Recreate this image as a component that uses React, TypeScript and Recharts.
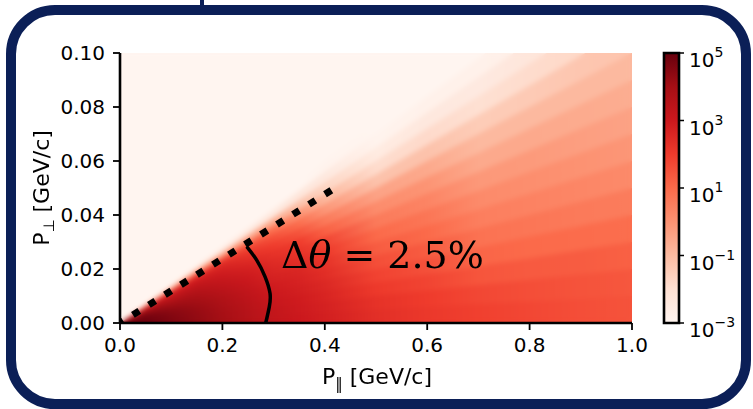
import React from 'react';
import { ComposedChart, Area, Line, Bar, XAxis, YAxis, CartesianGrid } from 'recharts';

// ---- data ----
// momentum stops (P_parallel, GeV/c) at which the colour of every angular band is read
const pLStops = [0, 0.05, 0.1, 0.15, 0.2, 0.25, 0.3, 0.35, 0.4, 0.5, 0.6, 0.7, 0.8, 0.9, 1.0];
// upper edge of each angular band (P_perp / P_parallel)
const bandEdges = [0.01, 0.02, 0.03, 0.04, 0.05, 0.06, 0.07, 0.08, 0.09, 0.1, 0.11, 0.12, 0.13, 0.14, 0.15];
// log10(counts) of each band, read at pLStops
const band0 = [4.9, 4.9, 4.6, 4.3, 4.0, 3.6, 3.25, 3.0, 2.8, 2.35, 2.1, 1.9, 1.75, 1.6, 1.5];
const band1 = [4.9, 4.9, 4.6, 4.3, 3.95, 3.55, 3.2, 2.95, 2.75, 2.25, 2.0, 1.75, 1.6, 1.5, 1.4];
const band2 = [4.9, 4.9, 4.55, 4.25, 3.9, 3.5, 3.1, 2.9, 2.65, 2.05, 1.8, 1.45, 1.35, 1.3, 1.2];
const band3 = [4.85, 4.85, 4.5, 4.2, 3.8, 3.4, 3.0, 2.8, 2.55, 1.85, 1.55, 1.1, 1.0, 0.95, 0.9];
const band4 = [4.75, 4.75, 4.4, 4.1, 3.7, 3.3, 2.9, 2.7, 2.4, 1.6, 1.3, 0.8, 0.7, 0.6, 0.55];
const band5 = [4.65, 4.65, 4.25, 4.0, 3.55, 3.15, 2.75, 2.6, 2.25, 1.3, 1.0, 0.5, 0.4, 0.3, 0.2];
const band6 = [4.5, 4.5, 4.1, 3.85, 3.4, 3.0, 2.6, 2.4, 2.05, 1.0, 0.7, 0.2, 0.1, 0.0, -0.1];
const band7 = [4.3, 4.3, 3.9, 3.65, 3.25, 2.85, 2.45, 2.2, 1.8, 0.6, 0.35, -0.15, -0.2, -0.3, -0.4];
const band8 = [4.0, 4.0, 3.6, 3.45, 3.05, 2.65, 2.25, 2.0, 1.2, 0.15, -0.05, -0.55, -0.55, -0.6, -0.65];
const band9 = [3.7, 3.7, 3.3, 3.2, 2.85, 2.4, 2.0, 1.5, 0.6, -0.4, -0.55, -0.95, -0.95, -0.95, -0.95];
const band10 = [3.3, 3.3, 3.0, 2.9, 2.6, 2.1, 1.6, 0.9, -0.1, -1.2, -1.2, -1.45, -1.4, -1.3, -1.25];
const band11 = [2.7, 2.7, 2.5, 2.4, 2.1, 1.5, 0.9, 0.0, -0.9, -1.9, -1.85, -2.0, -1.9, -1.8, -1.6];
const band12 = [0.5, 0.5, 0.2, 0.3, -0.2, -0.4, -0.6, -1.2, -1.7, -2.5, -2.4, -2.45, -2.3, -2.2, -2.0];
const band13 = [-2.0, -2.0, -2.2, -2.3, -2.4, -2.4, -2.4, -2.3, -2.4, -2.9, -2.8, -2.8, -2.7, -2.6, -2.4];
const band14 = [-3, -3, -3, -3, -3, -3, -3, -3, -2.9, -3, -3, -3, -3, -3, -2.8];
const bandValues = [band0, band1, band2, band3, band4, band5, band6, band7, band8, band9, band10, band11, band12, band13, band14];

// dashed acceptance edge and the angle arc (data coordinates)
const edgeLine = [{ pL: 0, pT: 0 }, { pL: 0.42, pT: 0.05 }];
const arcLine = [
  { pL: 0.2475, pT: 0.0283 },
  { pL: 0.267, pT: 0.0233 },
  { pL: 0.2832, pT: 0.0172 },
  { pL: 0.293, pT: 0.011 },
  { pL: 0.2916, pT: 0.006 },
  { pL: 0.2846, pT: 0.0 },
];

const xTicks = [0, 0.2, 0.4, 0.6, 0.8, 1.0];
const yTicks = [0, 0.02, 0.04, 0.06, 0.08, 0.1];
const cbTicks = [-3, -1, 1, 3, 5];
const cbRange = [-3, 5];
const cbData = [{ name: 'cb', range: [-3, 5] }];

// ---- colour map (matplotlib "Reds", log scale 1e-3 .. 1e5) ----
const REDS = ['#fff5f0', '#fee0d2', '#fcbba1', '#fc9272', '#fb6a4a', '#ef3b2c', '#cb181d', '#a50f15', '#67000d'];
const hex = (h: string) => [parseInt(h.slice(1, 3), 16), parseInt(h.slice(3, 5), 16), parseInt(h.slice(5, 7), 16)];
function cmap(v: number): string {
  let t = (v - cbRange[0]) / (cbRange[1] - cbRange[0]);
  t = Math.max(0, Math.min(1, t));
  const p = t * 8;
  const i = Math.min(7, Math.floor(p));
  const f = p - i;
  const a = hex(REDS[i]);
  const b = hex(REDS[i + 1]);
  const c = a.map((x, j) => Math.round(x + (b[j] - x) * f));
  return `rgb(${c[0]},${c[1]},${c[2]})`;
}

const heatData = pLStops.map((pL) => {
  const row: Record<string, number> = { pL };
  bandEdges.forEach((r, k) => {
    row['e' + k] = r * pL;
  });
  return row;
});

const FONT = 'DejaVu Sans';
const NAVY = '#0b1f57';
const W = 753;
const H = 409;
const PLOT = { top: 53, left: 120, right: 121, bottom: 86 };

const CbTick = (props: any) => {
  const { x, y, payload } = props;
  const e = payload.value;
  const s = e < 0 ? '\u2212' + Math.abs(e) : String(e);
  return (
    <text x={x} y={y + 14} fontFamily={FONT} fontSize={20} fill="#000" textAnchor="start">
      10
      <tspan dy={-10} fontSize={14}>{s}</tspan>
    </text>
  );
};

function HeatChart() {
  return (
    <ComposedChart width={W} height={H} data={heatData} margin={PLOT}>
      <CartesianGrid fill={cmap(-3)} stroke="none" horizontal={false} vertical={false} />
      <XAxis dataKey="pL" type="number" domain={[0, 1]} allowDataOverflow hide />
      <YAxis type="number" domain={[0, 0.1]} allowDataOverflow hide />
      {bandValues
        .map((_, k) => k)
        .reverse()
        .map((k) => (
          <Area
            key={k}
            dataKey={'e' + k}
            type="linear"
            stroke="none"
            fill={`url(#band${k})`}
            fillOpacity={1}
            dot={false}
            activeDot={false}
            isAnimationActive={false}
          />
        ))}
    </ComposedChart>
  );
}

export default function App() {
  const axisLine = { stroke: '#000', strokeWidth: 2.6 };
  return (
    <div style={{ position: 'absolute', left: 0, top: 0, width: W, height: H, background: '#fff', overflow: 'hidden' }}>
      <svg width={0} height={0} style={{ position: 'absolute' }}>
        <defs>
          {bandValues.map((vals, k) => (
            <linearGradient key={k} id={`band${k}`} x1="0" y1="0" x2="1" y2="0">
              {pLStops.map((pL, i) => (
                <stop key={i} offset={pL} stopColor={cmap(vals[i])} />
              ))}
            </linearGradient>
          ))}
          <linearGradient id="cbGrad" x1="0" y1="1" x2="0" y2="0">
            {REDS.map((c, i) => (
              <stop key={i} offset={i / 8} stopColor={c} />
            ))}
          </linearGradient>
        </defs>
      </svg>

      {/* rounded frame */}
      <svg width={W} height={H} style={{ position: 'absolute', left: 0, top: 0 }}>
        <line x1={202} y1={0} x2={202} y2={8} stroke={NAVY} strokeWidth={4} />
        <rect x={11} y={10} width={735} height={394} rx={44} ry={44} fill="none" stroke={NAVY} strokeWidth={10} />
      </svg>

      {/* sharp heat map */}
      <div style={{ position: 'absolute', left: 0, top: 0 }}>
        <HeatChart />
      </div>
      {/* softened copy on top, clipped to the plot */}
      <div
        style={{
          position: 'absolute',
          left: PLOT.left + 1,
          top: PLOT.top + 1,
          width: W - PLOT.left - PLOT.right - 2,
          height: H - PLOT.top - PLOT.bottom - 2,
          overflow: 'hidden',
        }}
      >
        <div style={{ position: 'absolute', left: -PLOT.left - 1, top: -PLOT.top - 1, filter: 'blur(2.5px)' }}>
          <HeatChart />
        </div>
      </div>

      {/* axes, frame, annotation lines */}
      <div style={{ position: 'absolute', left: 0, top: 0 }}>
        <ComposedChart width={W} height={H} data={heatData} margin={{ top: PLOT.top, right: PLOT.right, bottom: 0, left: 0 }}>
          <XAxis
            dataKey="pL"
            type="number"
            domain={[0, 1]}
            allowDataOverflow
            ticks={xTicks}
            tickFormatter={(v: number) => v.toFixed(1)}
            height={PLOT.bottom}
            tickSize={7}
            tickMargin={8}
            tick={{ fontSize: 20, fontFamily: FONT, fill: '#000' }}
            tickLine={{ stroke: '#000', strokeWidth: 1.8 }}
            axisLine={axisLine}
          />
          <XAxis xAxisId="top" orientation="top" type="number" domain={[0, 1]} height={0} tick={false} tickLine={false} axisLine={axisLine} />
          <YAxis
            type="number"
            domain={[0, 0.1]}
            allowDataOverflow
            ticks={yTicks}
            tickFormatter={(v: number) => v.toFixed(2)}
            width={PLOT.left}
            tickSize={7}
            tickMargin={8}
            tick={{ fontSize: 20, fontFamily: FONT, fill: '#000' }}
            tickLine={{ stroke: '#000', strokeWidth: 1.8 }}
            axisLine={axisLine}
          />
          <YAxis yAxisId="right" orientation="right" type="number" domain={[0, 0.1]} width={0} tick={false} tickLine={false} axisLine={axisLine} />
          <Line
            data={edgeLine}
            dataKey="pT"
            type="linear"
            stroke="#000"
            strokeWidth={7}
            strokeDasharray="7.5 11.4"
            strokeDashoffset={3.65}
            strokeLinecap="butt"
            dot={false}
            activeDot={false}
            isAnimationActive={false}
          />
          <Line
            data={arcLine}
            dataKey="pT"
            type="natural"
            stroke="#000"
            strokeWidth={3.5}
            dot={false}
            activeDot={false}
            isAnimationActive={false}
          />
        </ComposedChart>
      </div>

      {/* colour bar */}
      <div style={{ position: 'absolute', left: 0, top: 0 }}>
        <ComposedChart
          width={W}
          height={H}
          data={cbData}
          margin={{ top: PLOT.top, right: 0, bottom: PLOT.bottom, left: 664 }}
          barCategoryGap={0}
        >
          <XAxis dataKey="name" type="category" hide />
          <YAxis
            orientation="right"
            type="number"
            domain={cbRange}
            ticks={cbTicks}
            width={74}
            tickSize={5}
            tickMargin={5}
            tick={<CbTick />}
            tickLine={{ stroke: '#000', strokeWidth: 1.5 }}
            axisLine={false}
          />
          <Bar dataKey="range" fill="url(#cbGrad)" stroke="#000" strokeWidth={2.6} isAnimationActive={false} />
        </ComposedChart>
      </div>

      {/* titles and annotation */}
      <svg
        width={W}
        height={H}
        style={{ position: 'absolute', left: 0, top: 0, pointerEvents: 'none', willChange: 'transform', opacity: 0.999 }}
      >
        <text x={377} y={384} textAnchor="middle" fontFamily={FONT} fontSize={22} fill="#000">
          P<tspan fontFamily={FONT} fontSize={15} dy={5}>{'\u2016'}</tspan>
          <tspan dy={-5}>{'\u00a0[GeV/c]'}</tspan>
        </text>
        <text transform="translate(49,188) rotate(-90)" textAnchor="middle" fontFamily={FONT} fontSize={22} fill="#000">
          P<tspan fontSize={15} dy={5}>⊥</tspan>
          <tspan dy={-5}>{'\u00a0[GeV/c]'}</tspan>
        </text>
        <text x={281} y={268} fontFamily="DejaVu Serif" fontSize={38} fill="#000">
          Δ<tspan fontStyle="italic">θ</tspan>
          <tspan>{'\u00a0=\u00a02.5%'}</tspan>
        </text>
      </svg>
    </div>
  );
}
